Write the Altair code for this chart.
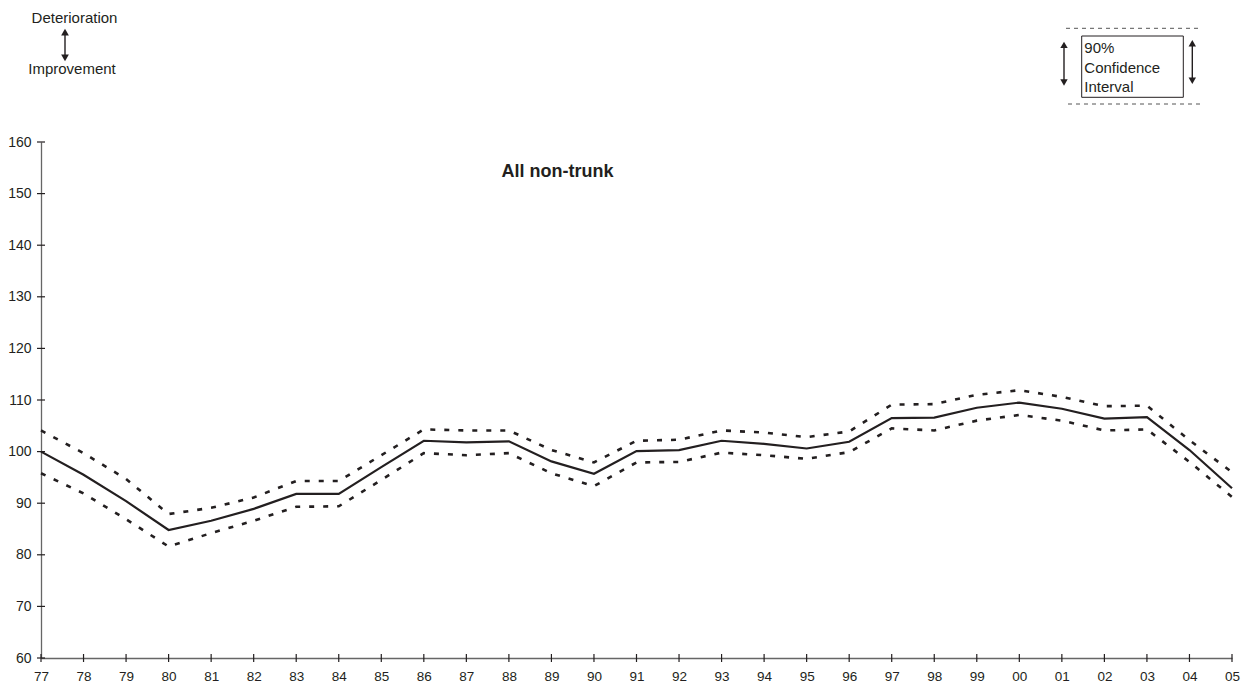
import altair as alt
import pandas as pd

# ---- data ----
years = ["77", "78", "79", "80", "81", "82", "83", "84", "85", "86", "87", "88", "89", "90",
         "91", "92", "93", "94", "95", "96", "97", "98", "99", "00", "01", "02", "03", "04", "05"]
index_vals = [100.0, 95.5, 90.4, 84.8, 86.6, 88.9, 91.8, 91.8, 97.0,
              102.1, 101.8, 102.0, 98.1, 95.7,
              100.1, 100.3, 102.1, 101.5, 100.6, 101.9,
              106.5, 106.6, 108.5, 109.5,
              108.3, 106.4, 106.7, 100.3, 92.9]
upper_vals = [104.1, 99.7, 94.7, 87.9, 89.1, 91.1, 94.3, 94.3, 99.3,
              104.3, 104.1, 104.1, 100.3, 97.9,
              102.1, 102.3, 104.1, 103.7, 102.8, 103.9,
              109.1, 109.2, 111.0, 111.9,
              110.6, 108.8, 108.9, 102.2, 96.0]
lower_vals = [95.8, 91.9, 86.9, 81.6, 84.2, 86.6, 89.3, 89.4, 94.5,
              99.7, 99.3, 99.7, 95.8, 93.3,
              97.9, 98.0, 99.8, 99.3, 98.6, 99.9,
              104.5, 104.1, 106.0, 107.1,
              106.0, 104.1, 104.3, 98.0, 91.2]
y_ticks = [60, 70, 80, 90, 100, 110, 120, 130, 140, 150, 160]

title_text = "All non-trunk"
legend_lines = ["90%", "Confidence", "Interval"]

INK = "#231f20"
FONT = "Liberation Sans"
W, H = 1191, 516

df = pd.DataFrame({"year": years, "index": index_vals, "upper": upper_vals, "lower": lower_vals})
df_y = pd.DataFrame({"v": y_ticks})
df_x = pd.DataFrame({"year": years})
one = pd.DataFrame({"a": [0]})

xscale = alt.Scale(type="point", padding=0)
yscale = alt.Scale(domain=[60, 160], nice=False, zero=False)
xaxis = alt.Axis(title=None, ticks=False, labelPadding=11, labelAngle=0,
                 domainColor="#666666", domainWidth=1.3, labelColor=INK, labelFontSize=13.5, labelFont=FONT)
yaxis = alt.Axis(title=None, ticks=False, values=y_ticks, labelPadding=10, grid=False,
                 domainColor="#666666", domainWidth=1.3, labelColor=INK, labelFontSize=14, labelFont=FONT)

X = alt.X("year:O", sort=years, scale=xscale, axis=xaxis)

base = alt.Chart(df)
main = base.mark_line(color=INK, strokeWidth=2.2).encode(
    x=X, y=alt.Y("index:Q", scale=yscale, axis=yaxis))
up = base.mark_line(color=INK, strokeWidth=2.6, strokeDash=[5, 9]).encode(
    x=X, y=alt.Y("upper:Q", scale=yscale, axis=yaxis))
lo = base.mark_line(color=INK, strokeWidth=2.6, strokeDash=[5, 9]).encode(
    x=X, y=alt.Y("lower:Q", scale=yscale, axis=yaxis))

yt = alt.Chart(df_y).mark_rule(color=INK, strokeWidth=1.2).encode(
    y=alt.Y("v:Q", scale=yscale, axis=yaxis), x=alt.value(-4), x2=alt.value(4))
xt = alt.Chart(df_x).mark_rule(color=INK, strokeWidth=1.2).encode(
    x=X, y=alt.value(H - 4), y2=alt.value(H + 4))

ann = alt.Chart(one)

title = ann.mark_text(fontSize=18, fontWeight="bold", font=FONT, color=INK,
                      align="center", baseline="alphabetic").encode(
    x=alt.value(516.5), y=alt.value(34.7), text=alt.value(title_text))

det = ann.mark_text(fontSize=15, font=FONT, color=INK, align="center", baseline="alphabetic").encode(
    x=alt.value(33.5), y=alt.value(-119.3), text=alt.value("Deterioration"))
imp = ann.mark_text(fontSize=15, font=FONT, color=INK, align="center", baseline="alphabetic").encode(
    x=alt.value(31), y=alt.value(-67.7), text=alt.value("Improvement"))


def arrow(xp, ytop, ybot, size=55):
    shaft = ann.mark_rule(color=INK, strokeWidth=1.4).encode(
        x=alt.value(xp), y=alt.value(ytop + 4), y2=alt.value(ybot - 4))
    head_up = ann.mark_point(shape="triangle-up", filled=True, opacity=1, size=size, color=INK).encode(
        x=alt.value(xp), y=alt.value(ytop + 4.2))
    head_dn = ann.mark_point(shape="triangle-down", filled=True, opacity=1, size=size, color=INK).encode(
        x=alt.value(xp), y=alt.value(ybot - 4.2))
    return [shaft, head_up, head_dn]


arr1 = arrow(24, -114, -80, 60)
arr2 = arrow(1023, -101.3, -55.3, 55)
arr3 = arrow(1151.3, -103, -57, 55)

dash_top = ann.mark_rule(color="#555555", strokeWidth=1, strokeDash=[4, 4]).encode(
    x=alt.value(1025), x2=alt.value(1159), y=alt.value(-113.7))
dash_bot = ann.mark_rule(color="#555555", strokeWidth=1, strokeDash=[4, 4]).encode(
    x=alt.value(1027), x2=alt.value(1159), y=alt.value(-38))
box = ann.mark_rect(fill="white", stroke=INK, strokeWidth=1).encode(
    x=alt.value(1040.7), x2=alt.value(1142.3), y=alt.value(-106), y2=alt.value(-44.7))
leg_txt = ann.mark_text(fontSize=15, font=FONT, color=INK, align="left", baseline="alphabetic",
                        lineBreak="\n", lineHeight=19.3).encode(
    x=alt.value(1043.3), y=alt.value(-88.7), text=alt.value("\n".join(legend_lines)))

chart = alt.layer(
    main, up, lo, yt, xt, title, det, imp, *arr1, dash_top, dash_bot, box, leg_txt, *arr2, *arr3
).properties(
    width=W, height=H,
    autosize=alt.AutoSizeParams(type="none"),
    padding={"left": 33, "top": 134, "right": 13, "bottom": 24},
    background="white",
).configure_view(strokeWidth=0)

chart.save("out.html", embed_options={"renderer": "svg", "actions": False})
